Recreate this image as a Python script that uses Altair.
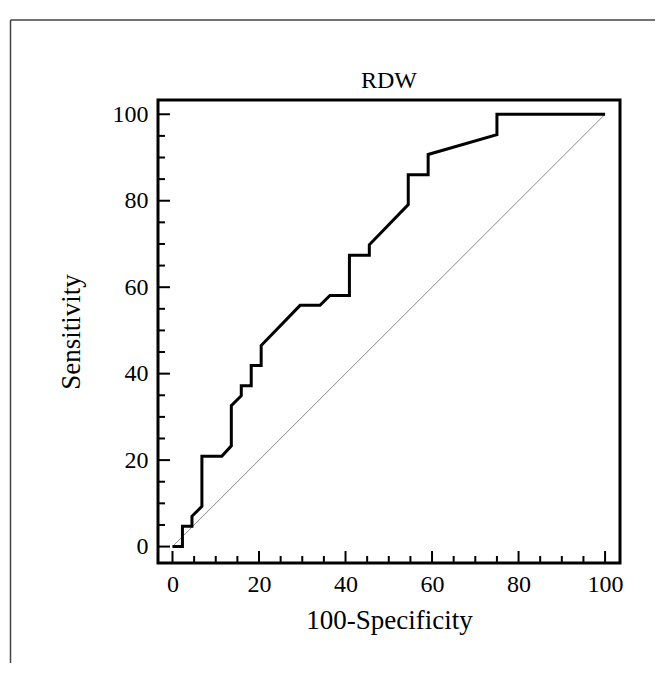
import altair as alt
import pandas as pd

# ROC curve points (percent)
fpr = [0, 2.3, 2.3, 4.5, 4.5, 6.8, 6.8, 11.4, 13.6, 13.6, 15.9, 15.9, 18.2, 18.2,
       20.5, 20.5, 29.5, 34.1, 36.4, 40.9, 40.9, 45.5, 45.5, 54.5, 54.5, 59.1,
       59.1, 75.0, 75.0, 100]
tpr = [0, 0, 4.7, 4.7, 7.0, 9.3, 20.9, 20.9, 23.3, 32.6, 34.9, 37.2, 37.2, 41.9,
       41.9, 46.5, 55.8, 55.8, 58.1, 58.1, 67.4, 67.4, 69.8, 79.1, 86.0, 86.0,
       90.7, 95.3, 100, 100]
diag_x = [0, 100]
diag_y = [0, 100]
major_ticks = [0, 20, 40, 60, 80, 100]
minor_ticks = [5, 10, 15, 25, 30, 35, 45, 50, 55, 65, 70, 75, 85, 90, 95]

W, H = 462, 463
FONT = "Liberation Serif"
XT = "100-Specificity"
YT = "Sensitivity"

xs = alt.Scale(domain=[-3.35, 103.45], nice=False, zero=False)
ys = alt.Scale(domain=[-3.8, 103.3], nice=False, zero=False)

roc_df = pd.DataFrame({"fpr": fpr, "tpr": tpr, "i": list(range(len(fpr)))})
diag_df = pd.DataFrame({"fpr": diag_x, "tpr": diag_y, "i": [0, 1]})
maj_df = pd.DataFrame({"v": major_ticks})
min_df = pd.DataFrame({"v": minor_ticks})
one = pd.DataFrame({"a": [0]})

x_axis = alt.Axis(values=major_ticks, ticks=False, domain=False, grid=False,
                  labelFont=FONT, labelFontSize=24, labelColor="black",
                  labelPadding=9, titleFont=FONT, titleFontSize=27,
                  titleFontWeight="normal", titleColor="black", titlePadding=11)
y_axis = alt.Axis(values=major_ticks, ticks=False, domain=False, grid=False,
                  labelFont=FONT, labelFontSize=24, labelColor="black",
                  labelPadding=10, titleFont=FONT, titleFontSize=27,
                  titleFontWeight="normal", titleColor="black", titlePadding=27)


def X(f):
    return alt.X(f, scale=xs, axis=x_axis, title=XT)


def Y(f):
    return alt.Y(f, scale=ys, axis=y_axis, title=YT)


diag = alt.Chart(diag_df).mark_line(color="#8a8a8a", strokeWidth=1).encode(
    x=X("fpr:Q"), y=Y("tpr:Q"), order="i:Q")

roc = alt.Chart(roc_df).mark_line(color="black", strokeWidth=3,
                                  strokeJoin="miter", strokeCap="butt").encode(
    x=X("fpr:Q"), y=Y("tpr:Q"), order="i:Q")

xmaj = alt.Chart(maj_df).mark_rule(color="black", strokeWidth=2).encode(
    x=X("v:Q"), y=alt.value(H), y2=alt.value(H - 12))
xmin = alt.Chart(min_df).mark_rule(color="black", strokeWidth=2).encode(
    x=X("v:Q"), y=alt.value(H), y2=alt.value(H - 7))
ymaj = alt.Chart(maj_df).mark_rule(color="black", strokeWidth=2).encode(
    y=Y("v:Q"), x=alt.value(0), x2=alt.value(12))
ymin = alt.Chart(min_df).mark_rule(color="black", strokeWidth=2).encode(
    y=Y("v:Q"), x=alt.value(0), x2=alt.value(7))

# outer figure frame (top and left edges)
frame_top = alt.Chart(one).mark_rule(color="#444444", strokeWidth=1.5).encode(
    x=alt.value(-147.5), x2=alt.value(W + 40), y=alt.value(-80))
frame_left = alt.Chart(one).mark_rule(color="#444444", strokeWidth=1.5).encode(
    x=alt.value(-147.5), y=alt.value(-80), y2=alt.value(H + 120))

chart = alt.layer(diag, roc, xmaj, xmin, ymaj, ymin, frame_top, frame_left).properties(
    width=W, height=H,
    title=alt.Title("RDW", font=FONT, fontSize=24, fontWeight="normal",
                    color="black", anchor="middle", offset=0, dy=74,
                    frame="group"),
    autosize=alt.AutoSizeParams(type="none"),
    padding={"left": 150, "top": 92, "right": 35, "bottom": 100},
).configure(background="white").configure_view(stroke="black", strokeWidth=3)

chart.save("out.html", embed_options={"renderer": "svg", "actions": False})
